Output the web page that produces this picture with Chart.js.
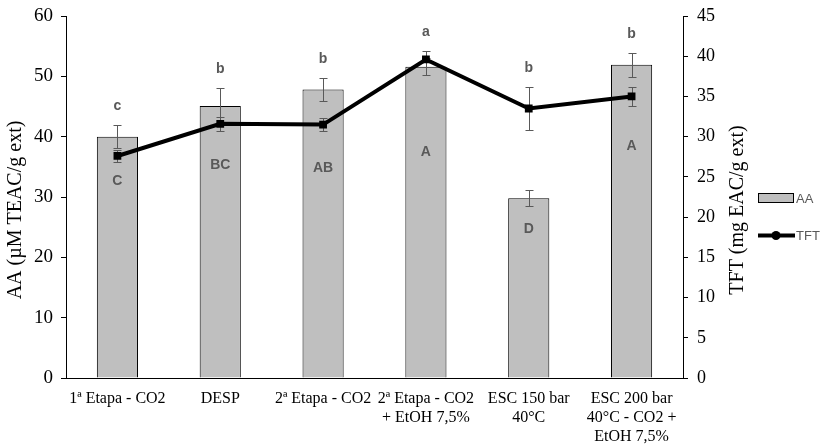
<!DOCTYPE html>
<html>
<head>
<meta charset="utf-8">
<script src="https://cdn.jsdelivr.net/npm/chart.js@4.4.0/dist/chart.umd.min.js"></script>
<style>
  body { margin: 0; background: #fff; }
  #wrap { width: 822px; height: 445px; position: relative; }
</style>
</head>
<body>
<div id="wrap"><canvas id="chart"></canvas></div>
<script>
// --- DATA ---
const categories = [
  ['1ª Etapa - CO2'],
  ['DESP'],
  ['2ª Etapa - CO2'],
  ['2ª Etapa - CO2', '+ EtOH 7,5%'],
  ['ESC 150 bar', '40°C'],
  ['ESC 200 bar', '40°C - CO2 +', 'EtOH 7,5%']
];
const aaValues = [40.0, 45.1, 47.8, 51.6, 29.8, 51.9];
const aaErrors = [1.9, 3.0, 1.9, 1.4, 1.3, 2.0];
const tftValues = [27.6, 31.6, 31.5, 39.6, 33.5, 35.0];
const tftErrors = [0.7, 0.9, 0.8, 1.0, 2.7, 1.2];
const tftLetters = ['c', 'b', 'b', 'a', 'b', 'b'];   // above the bars
const aaLetters = ['C', 'BC', 'AB', 'A', 'D', 'A'];   // inside the bars
const aaLetterAt = [32.7, 35.2, 34.8, 37.5, 24.7, 38.5]; // in AA units

const SERIF = "'Liberation Serif', 'Times New Roman', serif";
const SANS = "'Liberation Sans', Arial, sans-serif";

// --- ANNOTATIONS: error bars, letters, titles, legend ---
const extras = {
  id: 'extras',
  beforeDatasetDraw(chart, args) {
    if (args.index !== 1) return; // draw error bars just before the TFT line
    const ctx = chart.ctx;
    const x = chart.scales.x, y = chart.scales.y, y1 = chart.scales.y1;
    ctx.save();
    ctx.strokeStyle = '#595959';
    ctx.lineWidth = 1;
    const bar = (cx, top, bottom) => {
      ctx.beginPath();
      ctx.moveTo(cx, top); ctx.lineTo(cx, bottom);
      ctx.moveTo(cx - 4, top); ctx.lineTo(cx + 4, top);
      ctx.moveTo(cx - 4, bottom); ctx.lineTo(cx + 4, bottom);
      ctx.stroke();
    };
    aaValues.forEach((v, i) => {
      const cx = Math.round(x.getPixelForValue(i)) + 0.5;
      bar(cx, Math.round(y.getPixelForValue(v + aaErrors[i])) + 0.5, Math.round(y.getPixelForValue(v - aaErrors[i])) + 0.5);
    });
    tftValues.forEach((v, i) => {
      const cx = Math.round(x.getPixelForValue(i)) + 0.5;
      bar(cx, Math.round(y1.getPixelForValue(v + tftErrors[i])) + 0.5, Math.round(y1.getPixelForValue(v - tftErrors[i])) + 0.5);
    });
    ctx.restore();
  },
  afterDraw(chart) {
    const ctx = chart.ctx;
    const x = chart.scales.x, y = chart.scales.y, y1 = chart.scales.y1;
    const area = chart.chartArea;
    ctx.save();

    // significance letters
    ctx.fillStyle = '#595959';
    ctx.font = 'bold 14px ' + SANS;
    ctx.textAlign = 'center';
    ctx.textBaseline = 'middle';
    tftLetters.forEach((t, i) => {
      const top = Math.min(y.getPixelForValue(aaValues[i] + aaErrors[i]), y1.getPixelForValue(tftValues[i] + tftErrors[i]));
      ctx.fillText(t, x.getPixelForValue(i), top - 19);
    });
    aaLetters.forEach((t, i) => {
      ctx.fillText(t, x.getPixelForValue(i), y.getPixelForValue(aaLetterAt[i]));
    });

    // axis titles
    ctx.fillStyle = '#000';
    ctx.font = '20px ' + SERIF;
    const midY = (area.top + area.bottom) / 2 + 13;
    ctx.save();
    ctx.translate(16, midY);
    ctx.rotate(-Math.PI / 2);
    ctx.fillText('AA (µM TEAC/g ext)', 0, 0);
    ctx.restore();
    ctx.save();
    ctx.translate(738, midY);
    ctx.rotate(-Math.PI / 2);
    ctx.fillText('TFT (mg EAC/g ext)', 0, 0);
    ctx.restore();

    // legend
    ctx.fillStyle = '#bfbfbf';
    ctx.fillRect(758, 193, 35, 10);
    ctx.strokeStyle = '#000';
    ctx.lineWidth = 1;
    ctx.strokeRect(758.5, 193.5, 35, 9);
    ctx.strokeStyle = '#000';
    ctx.lineWidth = 4;
    ctx.beginPath();
    ctx.moveTo(758, 235.5); ctx.lineTo(795, 235.5);
    ctx.stroke();
    ctx.fillStyle = '#000';
    ctx.beginPath();
    ctx.arc(776, 235.5, 4.5, 0, Math.PI * 2);
    ctx.fill();
    ctx.fillStyle = '#595959';
    ctx.font = '13px ' + SANS;
    ctx.textAlign = 'left';
    ctx.fillText('AA', 796, 199);
    ctx.fillText('TFT', 796, 236);
    ctx.restore();
  }
};

new Chart(document.getElementById('chart'), {
  type: 'bar',
  data: {
    labels: categories,
    datasets: [
      {
        label: 'AA',
        data: aaValues,
        yAxisID: 'y',
        backgroundColor: '#bfbfbf',
        borderColor: '#000',
        borderWidth: 1,
        barPercentage: 0.4,
        categoryPercentage: 1,
        order: 2
      },
      {
        label: 'TFT',
        type: 'line',
        data: tftValues,
        yAxisID: 'y1',
        borderColor: '#000',
        borderWidth: 4,
        pointStyle: 'rect',
        pointRadius: 5.5,
        pointBackgroundColor: '#000',
        pointBorderWidth: 0,
        tension: 0,
        order: 1
      }
    ]
  },
  options: {
    responsive: true, maintainAspectRatio: false,
    animation: false,
    layout: { padding: { top: 16, left: 0, right: 79, bottom: 0 } },
    plugins: { legend: { display: false }, tooltip: { enabled: false } },
    scales: {
      x: {
        grid: { display: false, drawTicks: false },
        border: { display: true, color: '#000', width: 1 },
        ticks: { color: '#000', font: { family: SERIF, size: 16 }, padding: 11, maxRotation: 0, autoSkip: false },
        afterFit(s) { s.height = 67; }
      },
      y: {
        position: 'left',
        min: 0, max: 60,
        ticks: { stepSize: 10, color: '#000', font: { family: SERIF, size: 19 }, padding: 8 },
        grid: { display: true, drawOnChartArea: false, drawTicks: true, tickLength: 5, color: '#000' },
        border: { display: true, color: '#000', width: 1 },
        afterFit(s) { s.width = 66; s.paddingTop = 0; s.paddingBottom = 0; }
      },
      y1: {
        position: 'right',
        min: 0, max: 45,
        ticks: { stepSize: 5, color: '#000', font: { family: SERIF, size: 18 }, padding: 9 },
        grid: { display: true, drawOnChartArea: false, drawTicks: true, tickLength: 5, color: '#000' },
        border: { display: true, color: '#000', width: 1 },
        afterFit(s) { s.width = 60; s.paddingTop = 0; s.paddingBottom = 0; }
      }
    }
  },
  plugins: [extras]
});
</script>
</body>
</html>
